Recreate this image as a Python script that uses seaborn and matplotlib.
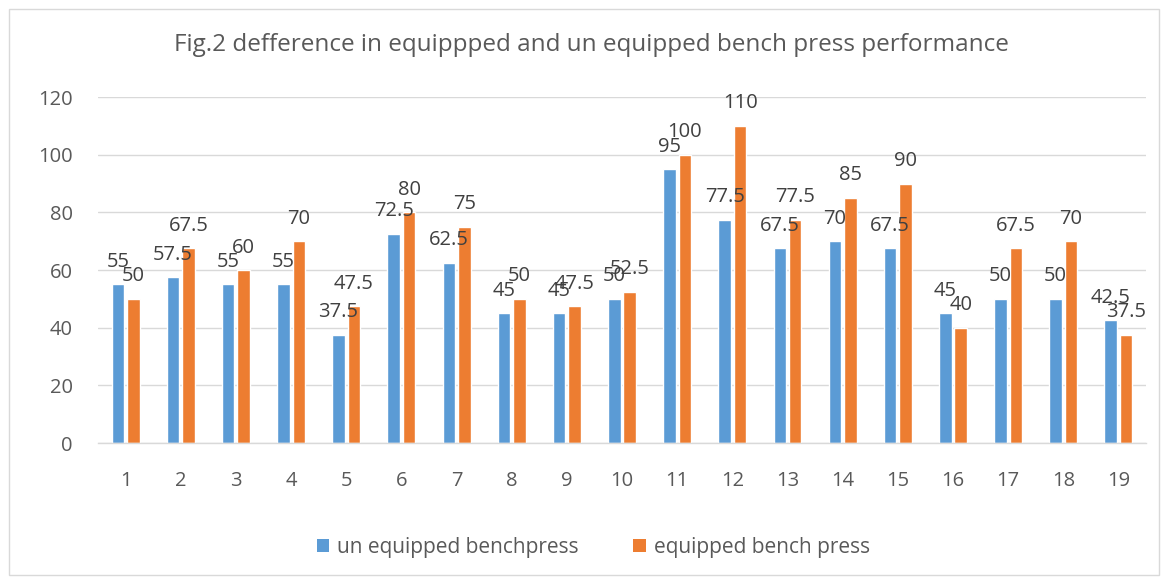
import matplotlib
matplotlib.use("Agg")
import matplotlib.pyplot as plt
import seaborn as sns
import pandas as pd
from matplotlib.patches import Rectangle, Patch

categories = [str(i) for i in range(1, 20)]
unequipped = [55, 57.5, 55, 55, 37.5, 72.5, 62.5, 45, 45, 50, 95, 77.5, 67.5, 70, 67.5, 45, 50, 50, 42.5]
equipped = [50, 67.5, 60, 70, 47.5, 80, 75, 50, 47.5, 52.5, 100, 110, 77.5, 85, 90, 40, 67.5, 70, 37.5]
series_names = ["un equipped benchpress", "equipped bench press"]
title = "Fig.2 defference in equippped and un equipped bench press performance"
yticks = [0, 20, 40, 60, 80, 100, 120]

colors = ["#5B9BD5", "#ED7D31"]
txt = "#595959"

df = pd.DataFrame({
    "cat": categories * 2,
    "val": unequipped + equipped,
    "series": [series_names[0]] * len(categories) + [series_names[1]] * len(categories),
})

sns.set_theme(style="white")
plt.rcParams["font.family"] = ["Open Sans", "DejaVu Sans"]

fig = plt.figure(figsize=(11.68, 5.81), dpi=100)
ax = fig.add_axes([0.0839, 0.2375, 0.8973, 0.5955])

sns.barplot(data=df, x="cat", y="val", hue="series", order=categories,
            hue_order=series_names, palette=colors, width=0.56, gap=0.19,
            saturation=1, ax=ax, legend=False, errorbar=None)

for cont in ax.containers:
    labels = [f"{b.get_height():g}" for b in cont]
    ax.bar_label(cont, labels=labels, padding=9, fontsize=14.5, color="#404040")

ax.set_ylim(0, 120)
ax.set_xlim(-0.5, len(categories) - 0.5)
ax.set_yticks(yticks)
ax.set_yticklabels([str(t) for t in yticks])
ax.yaxis.grid(True, color="#D9D9D9", linewidth=1)
ax.set_axisbelow(True)
for s in ["top", "right", "left"]:
    ax.spines[s].set_visible(False)
ax.spines["bottom"].set_color("#D9D9D9")
ax.spines["bottom"].set_linewidth(1)
ax.tick_params(axis="both", length=0, labelsize=14.5, colors=txt)
ax.tick_params(axis="y", pad=18)
ax.tick_params(axis="x", pad=20)
ax.set_xlabel("")
ax.set_ylabel("")

fig.text(0.506, 0.922, title, ha="center", va="center", fontsize=17.5, color=txt)

handles = [Patch(facecolor=c, edgecolor="none") for c in colors]
fig.legend(handles, series_names, loc="center", bbox_to_anchor=(0.508, 0.058),
           ncol=2, frameon=False, fontsize=15, labelcolor=txt,
           handlelength=0.6, handleheight=0.6, handletextpad=0.4, columnspacing=2.6)

fig.patches.append(Rectangle((9 / 1168, 6 / 581), 1150 / 1168, 566 / 581,
                             transform=fig.transFigure, fill=False,
                             edgecolor="#D9D9D9", linewidth=1))

fig.savefig("out.png", dpi=100, facecolor="white")
